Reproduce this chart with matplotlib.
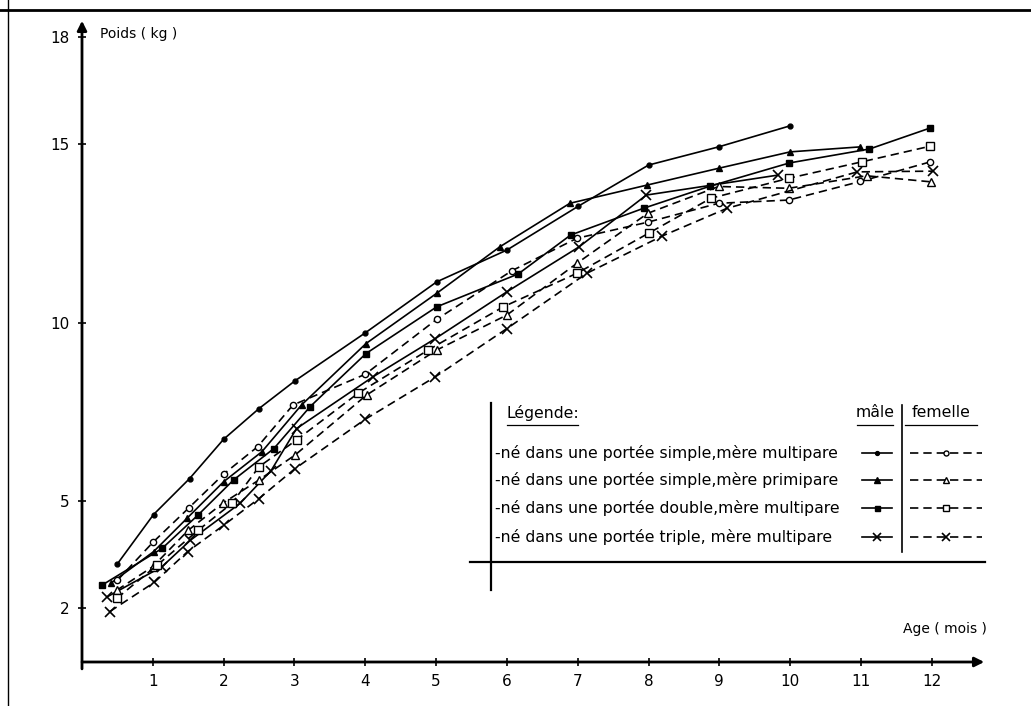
import matplotlib.pyplot as plt
from matplotlib.lines import Line2D

plt.rcParams['font.family'] = 'DejaVu Sans'

# age (mois) / poids (kg)
# male = solid line, femelle = dashed line
age_m_sm = [0.50, 1.01, 1.52, 2.00, 2.50, 3.01, 4.00, 5.01, 6.00, 7.01, 8.00, 8.99, 10.00]
kg_m_sm = [3.24, 4.62, 5.63, 6.73, 7.59, 8.37, 9.71, 11.14, 12.03, 13.26, 14.41, 14.92, 15.51]

age_m_sp = [0.41, 1.01, 1.48, 2.00, 2.54, 3.10, 4.01, 5.01, 5.90, 6.89, 7.98, 8.99, 10.00, 10.99]
kg_m_sp = [2.70, 3.58, 4.51, 5.54, 6.38, 7.69, 9.41, 10.82, 12.12, 13.34, 13.85, 14.32, 14.78, 14.92]

age_m_dm = [0.28, 1.13, 1.64, 2.14, 2.71, 3.22, 4.01, 5.01, 6.16, 6.90, 7.93, 8.87, 9.99, 11.12, 11.98]
kg_m_dm = [2.64, 3.67, 4.61, 5.59, 6.47, 7.64, 9.13, 10.44, 11.36, 12.45, 13.20, 13.82, 14.47, 14.86, 15.45]

age_m_tm = [0.36, 1.13, 1.53, 2.23, 2.67, 3.03, 4.11, 4.99, 6.00, 7.02, 7.97, 9.83]
kg_m_tm = [2.32, 3.16, 3.90, 4.93, 5.85, 7.03, 8.48, 9.55, 10.86, 12.12, 13.57, 14.13]

age_f_sm = [0.50, 1.00, 1.51, 2.01, 2.48, 2.98, 4.00, 5.01, 6.07, 6.99, 7.99, 8.99, 9.98, 10.99, 11.98]
kg_f_sm = [2.78, 3.84, 4.81, 5.77, 6.52, 7.69, 8.55, 10.09, 11.45, 12.36, 12.81, 13.34, 13.43, 13.95, 14.50]

age_f_sp = [0.49, 1.00, 1.50, 1.99, 2.50, 3.01, 4.02, 5.01, 6.00, 6.99, 7.99, 8.99, 9.98, 11.08, 11.99]
kg_f_sp = [2.50, 3.16, 4.18, 4.94, 5.59, 6.29, 7.97, 9.23, 10.21, 11.66, 13.06, 13.81, 13.76, 14.11, 13.94]

age_f_dm = [0.49, 1.06, 1.64, 2.12, 2.50, 3.03, 3.90, 4.89, 5.95, 6.99, 8.00, 8.88, 9.98, 11.01, 11.98]
kg_f_dm = [2.27, 3.20, 4.18, 4.94, 5.96, 6.71, 8.02, 9.23, 10.44, 11.38, 12.50, 13.48, 14.04, 14.50, 14.94]

age_f_tm = [0.39, 1.02, 1.49, 2.00, 2.50, 3.01, 4.00, 4.99, 6.00, 7.13, 8.19, 9.11, 10.95, 12.02]
kg_f_tm = [1.90, 2.72, 3.58, 4.32, 5.07, 5.91, 7.29, 8.48, 9.83, 11.38, 12.42, 13.20, 14.22, 14.24]

legend_rows = ["-né dans une portée simple,mère multipare",
               "-né dans une portée simple,mère primipare",
               "-né dans une portée double,mère multipare",
               "-né dans une portée triple, mère multipare"]

x_ticks = list(range(1, 13))
y_ticks = [2, 5, 10, 15, 18]

DASH = (0, (5, 3))
male_styles = [dict(marker='o', ms=3.5, mfc='k'),
               dict(marker='^', ms=5, mfc='k'),
               dict(marker='s', ms=4.5, mfc='k'),
               dict(marker='x', ms=6.5, mew=1.2)]
female_styles = [dict(marker='o', ms=4.5, mfc='white'),
                 dict(marker='^', ms=5.5, mfc='white'),
                 dict(marker='s', ms=5.5, mfc='white'),
                 dict(marker='x', ms=6.5, mew=1.2)]

males = [(age_m_sm, kg_m_sm), (age_m_sp, kg_m_sp), (age_m_dm, kg_m_dm), (age_m_tm, kg_m_tm)]
females = [(age_f_sm, kg_f_sm), (age_f_sp, kg_f_sp), (age_f_dm, kg_f_dm), (age_f_tm, kg_f_tm)]

W, H = 1031, 706
fig = plt.figure(figsize=(W / 100, H / 100), dpi=100)
ax = fig.add_axes([82 / W, 44 / H, 905 / W, 644 / H])

for (x, y), st in zip(males, male_styles):
    ax.plot(x, y, color='k', lw=1.2, mec='k', **st)
for (x, y), st in zip(females, female_styles):
    ax.plot(x, y, color='k', lw=1.2, ls=DASH, mec='k', **st)

ax.set_xlim(0, 12.78)
ax.set_ylim(0.49, 18.53)
ax.set_xticks(x_ticks)
ax.set_yticks(y_ticks)
ax.tick_params(direction='inout', length=6, width=1.2, labelsize=11, pad=6)
for s in ax.spines.values():
    s.set_visible(False)

# axes drawn as arrows
ax.annotate('', xy=(0, 1), xytext=(0, -0.015), xycoords='axes fraction',
            arrowprops=dict(arrowstyle='-|>', lw=2, color='k', mutation_scale=14))
ax.annotate('', xy=(1, 0), xytext=(-0.003, 0), xycoords='axes fraction',
            arrowprops=dict(arrowstyle='-|>', lw=2, color='k', mutation_scale=14))

ax.text(0.02, 0.975, "Poids ( kg )", transform=ax.transAxes, fontsize=10, va='center')
ax.text(1.0, 0.04, "Age ( mois )", transform=ax.transAxes, fontsize=10, ha='right', va='bottom')


# legend box, drawn by hand like the original (pixel positions -> figure fraction)
def fx(px):
    return px / W


def fy(py):
    return 1 - py / H


def fline(xs, ys, **kw):
    fig.add_artist(Line2D([fx(v) for v in xs], [fy(v) for v in ys], color='k', **kw))


fline([491, 491], [403, 590], lw=1.6)
fline([470, 985], [562, 562], lw=1.6)
fline([902, 902], [405, 552], lw=1.2)

LFS = 11.3
fig.text(fx(507), fy(413), "Légende:", fontsize=LFS, va='center')
fline([507, 578], [425, 425], lw=0.9)
fig.text(fx(875), fy(413), "mâle", fontsize=LFS, va='center', ha='center')
fline([857, 893], [425, 425], lw=0.9)
fig.text(fx(941), fy(413), "femelle", fontsize=LFS, va='center', ha='center')
fline([905, 977], [425, 425], lw=0.9)

row_y = [453, 480, 508, 537]
for label, py, ms, fs in zip(legend_rows, row_y, male_styles, female_styles):
    fig.text(fx(495), fy(py), label, fontsize=LFS, va='center')
    fline([862, 877, 892], [py, py, py], lw=1.2, markevery=[1], mec='k',
          **dict(ms, ms=ms['ms'] * 0.8))
    fline([910, 946, 982], [py, py, py], lw=1.2, ls=DASH, markevery=[1], mec='k',
          **dict(fs, ms=fs['ms'] * 0.8))

# scan border
fline([0, W], [10, 10], lw=2)
fline([8, 8], [0, H], lw=1)

fig.savefig("out.png", dpi=100)
